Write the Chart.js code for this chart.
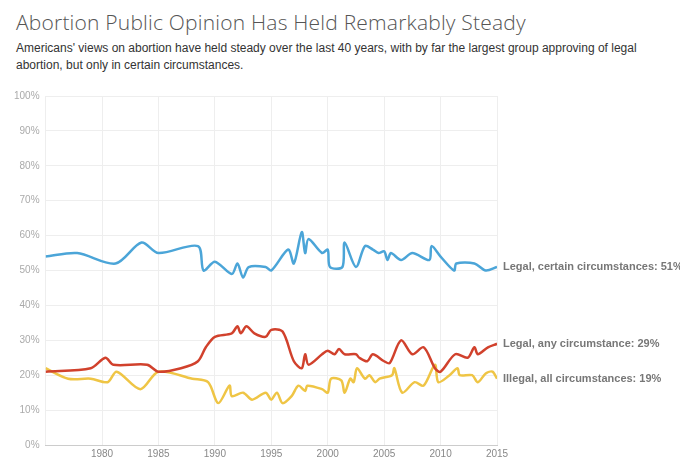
<!DOCTYPE html>
<html>
<head>
<meta charset="utf-8">
<script src="https://cdn.jsdelivr.net/npm/chart.js@4"></script>
<style>
  body { margin: 0; background: #fff; font-family: "Liberation Sans", Arial, sans-serif; }
  h1 { position: absolute; left: 16px; top: 8px; margin: 0; font-family: "Open Sans", sans-serif; font-size: 21px; font-weight: 300; color: #555; letter-spacing: 0.2px; }
  p { position: absolute; left: 16px; top: 40px; margin: 0; width: 655px; font-size: 12px; line-height: 17px; color: #333; }
  #wrap { position: absolute; left: 0; top: 84px; width: 680px; height: 381px; }
</style>
</head>
<body>
<h1>Abortion Public Opinion Has Held Remarkably Steady</h1>
<p>Americans' views on abortion have held steady over the last 40 years, with by far the largest group approving of legal abortion, but only in certain circumstances.</p>
<div id="wrap"><canvas id="chart"></canvas></div>
<script>
// Data
const certainYears = [1975, 1977.8, 1981.2, 1983.5, 1985, 1988.5, 1989, 1990, 1991.5, 1992, 1992.5, 1993, 1994.5, 1995, 1996.5, 1997, 1997.7, 1998, 1998.3, 1999.5, 2000, 2000.2, 2001.3, 2001.5, 2002.5, 2003.3, 2004, 2004.5, 2005, 2005.3, 2005.6, 2006.5, 2007.5, 2009, 2009.2, 2010, 2011.2, 2011.4, 2013, 2014, 2015];
const certainValues = [54, 55, 52, 58, 55, 57, 50, 52.5, 49, 52, 48, 51, 51, 50, 56, 52, 61, 55, 59, 55, 56, 51, 51, 58, 51, 57, 56, 55, 55.5, 53, 55, 53, 55, 53, 57, 54, 50, 52, 52, 50, 51];

const anyYears = [1975, 1979, 1980.3, 1981, 1984, 1985, 1987, 1988.5, 1989.2, 1990, 1991.5, 1992, 1992.3, 1992.8, 1993.5, 1994.5, 1995, 1996, 1997, 1997.7, 1998, 1998.3, 1999.5, 2000, 2000.6, 2001, 2001.5, 2002.5, 2002.8, 2003.5, 2004, 2005, 2005.5, 2006.5, 2007.5, 2008.5, 2009.5, 2010, 2011.3, 2012.4, 2013, 2013.3, 2014.2, 2015];
const anyValues = [21, 22, 25, 23, 23, 21, 22, 24, 28, 31, 32, 34, 32, 34, 32, 31, 33, 32.5, 24, 22, 26, 23, 26, 27, 26, 27.5, 26, 26, 25, 24, 26, 24, 23.5, 30, 26, 28, 22, 21, 26, 25, 28, 26, 28, 29];

const illegalYears = [1975, 1977, 1979, 1980.5, 1981.3, 1983.4, 1985, 1988, 1989.4, 1990.3, 1991.3, 1991.5, 1992.5, 1993.3, 1994.5, 1995, 1995.5, 1996, 1996.8, 1997.4, 1998, 1998.2, 1999.5, 2000, 2000.3, 2001.2, 2001.5, 2002, 2002.3, 2002.6, 2003.3, 2003.7, 2004.2, 2004.6, 2005.7, 2005.9, 2006.6, 2007.7, 2008.5, 2009.5, 2009.8, 2010.8, 2011.5, 2011.7, 2012.8, 2013.3, 2014, 2014.6, 2015];
const illegalValues = [22, 19, 19, 18, 21, 16, 21, 19, 18, 12, 17, 14, 15, 13, 15, 13, 15, 12, 14, 17, 15.5, 17, 16, 15, 19, 18.5, 15, 19, 18, 22, 19, 20, 18, 19, 20, 22, 15, 18, 17, 23, 18, 20, 22, 20, 20, 18, 20.5, 21, 19];

const seriesNames = ['Legal, certain circumstances: 51%', 'Legal, any circumstance: 29%', 'Illegal, all circumstances: 19%'];
const xTicks = [1975, 1980, 1985, 1990, 1995, 2000, 2005, 2010, 2015];

function toPoints(xs, ys) {
  return xs.map((x, i) => ({ x, y: ys[i] }));
}

// Draws the label at the end of each line
const endLabels = {
  id: 'endLabels',
  afterDatasetsDraw(chart) {
    const ctx = chart.ctx;
    ctx.save();
    ctx.font = 'bold 11px "Liberation Sans", Arial, sans-serif';
    ctx.fillStyle = '#777';
    ctx.textBaseline = 'middle';
    chart.data.datasets.forEach((ds, i) => {
      const meta = chart.getDatasetMeta(i);
      const last = meta.data[meta.data.length - 1];
      ctx.fillText(seriesNames[i], last.x + 6, last.y);
    });
    ctx.restore();
  }
};

new Chart(document.getElementById('chart'), {
  type: 'line',
  data: {
    datasets: [
      { data: toPoints(certainYears, certainValues), borderColor: '#4ba5d8' },
      { data: toPoints(anyYears, anyValues), borderColor: '#d1412c' },
      { data: toPoints(illegalYears, illegalValues), borderColor: '#efc545' }
    ]
  },
  options: {
    responsive: true,
    maintainAspectRatio: false,
    animation: false,
    layout: { padding: { left: 8, right: 183, top: 6, bottom: 2 } },
    elements: {
      line: { borderWidth: 2.5, tension: 0.3 },
      point: { radius: 0 }
    },
    plugins: { legend: { display: false }, tooltip: { enabled: false } },
    scales: {
      x: {
        type: 'linear',
        min: 1975,
        max: 2015,
        afterBuildTicks: axis => { axis.ticks = xTicks.map(v => ({ value: v })); },
        ticks: {
          callback: v => v === 1975 ? '' : String(v),
          color: '#888',
          font: { size: 10, family: '"Liberation Sans", Arial, sans-serif' },
          maxRotation: 0
        },
        grid: { color: '#eee', drawTicks: false },
        border: { color: '#ccc' }
      },
      y: {
        min: 0,
        max: 100,
        ticks: { stepSize: 10, callback: v => v + '%', color: '#aaa', font: { size: 10, family: '"Liberation Sans", Arial, sans-serif' }, padding: 6 },
        grid: { color: '#eee', drawTicks: false },
        border: { display: false }
      }
    }
  },
  plugins: [endLabels]
});
</script>
</body>
</html>
